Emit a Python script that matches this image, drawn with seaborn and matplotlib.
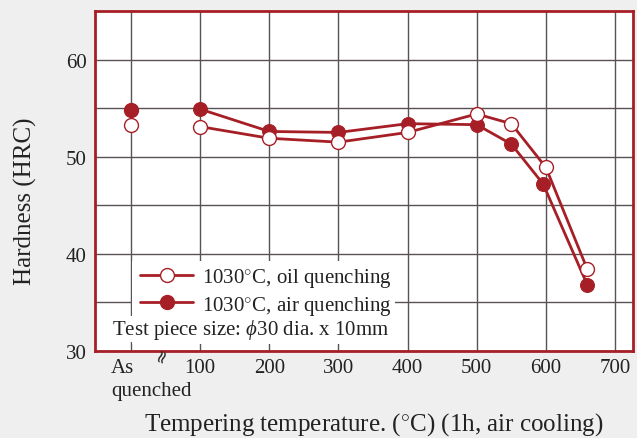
import numpy as np
import pandas as pd
import seaborn as sns
import matplotlib
matplotlib.use("Agg")
import matplotlib.pyplot as plt
from matplotlib.lines import Line2D
from matplotlib.patches import Rectangle
from matplotlib.ticker import FixedLocator
import matplotlib.transforms as mtransforms

# ---- data ----
temps_oil = [100, 200, 300, 400, 500, 550, 600, 660]
hrc_oil = [53.1, 51.9, 51.5, 52.5, 54.4, 53.4, 48.9, 38.4]
temps_air = [100, 200, 300, 400, 500, 550, 596, 660]
hrc_air = [54.9, 52.6, 52.5, 53.4, 53.3, 51.3, 47.2, 36.8]
as_quenched_x = [0]
as_quenched_oil = [53.3]
as_quenched_air = [54.8]
x_tick_values = [0, 100, 200, 300, 400, 500, 600, 700]
x_tick_labels = ["", "100", "200", "300", "400", "500", "600", "700"]
y_tick_values = [30, 40, 50, 60]
series_labels = ["1030$^{\\circ}$C, oil quenching", "1030$^{\\circ}$C, air quenching"]

RED = "#a61f26"
GRID = "#5a5252"
BG = "#efefef"
TXT = "#222222"

sns.set_style("white")
plt.rcParams["font.family"] = ["Liberation Serif", "DejaVu Serif"]
plt.rcParams["mathtext.fontset"] = "custom"
plt.rcParams["mathtext.rm"] = "Liberation Serif"
plt.rcParams["mathtext.it"] = "Liberation Serif:italic"

W, H = 637, 439
L, R, T, B = 95, 633, 12, 352

fig = plt.figure(figsize=(W / 100, H / 100), dpi=100, facecolor=BG)
ax = fig.add_axes([L / W, 1 - B / H, (R - L) / W, (B - T) / H])
ax.set_facecolor("white")


def axx(px):
    return (px - L) / (R - L)


def axy(py):
    return (B - py) / (B - T)


df_oil = pd.DataFrame({"T": temps_oil, "HRC": hrc_oil})
df_air = pd.DataFrame({"T": temps_air, "HRC": hrc_air})
df_aq_oil = pd.DataFrame({"T": as_quenched_x, "HRC": as_quenched_oil})
df_aq_air = pd.DataFrame({"T": as_quenched_x, "HRC": as_quenched_air})

lw = 2.0
ms = 10
sns.lineplot(data=df_air, x="T", y="HRC", ax=ax, color=RED, lw=lw, marker="o",
             markersize=ms, markerfacecolor=RED, markeredgecolor=RED, zorder=4)
sns.lineplot(data=df_oil, x="T", y="HRC", ax=ax, color=RED, lw=lw, marker="o",
             markersize=ms, markerfacecolor="white", markeredgecolor=RED,
             markeredgewidth=1.0, zorder=5)
ax.plot(df_aq_air["T"], df_aq_air["HRC"], ls="none", marker="o", markersize=ms,
        markerfacecolor=RED, markeredgecolor=RED, zorder=4)
ax.plot(df_aq_oil["T"], df_aq_oil["HRC"], ls="none", marker="o", markersize=ms,
        markerfacecolor="white", markeredgecolor=RED, markeredgewidth=1.0, zorder=5)

ax.set_xlim(-52, 726)
ax.set_ylim(30, 65)
ax.xaxis.set_major_locator(FixedLocator(x_tick_values))
ax.set_xticklabels(x_tick_labels)
ax.yaxis.set_major_locator(FixedLocator(y_tick_values))
ax.yaxis.set_minor_locator(FixedLocator([35, 45, 55]))
ax.grid(True, which="both", axis="y", color=GRID, lw=1.0)
ax.grid(True, which="major", axis="x", color=GRID, lw=1.0)
ax.set_axisbelow(True)
ax.tick_params(axis="both", which="both", length=0, labelsize=15, colors=TXT, pad=6)
ax.tick_params(axis="x", pad=5)

for s in ax.spines.values():
    s.set_color(RED)
    s.set_linewidth(2.0)
    s.set_zorder(6)

ax.set_xlabel("Tempering temperature. ($^{\\circ}$C) (1h, air cooling)", fontsize=18, color=TXT)
ax.xaxis.set_label_coords(0.519, -0.175)
ax.set_ylabel("Hardness (HRC)", fontsize=18, color=TXT)
ax.yaxis.set_label_coords(-0.108, 0.444)

trans = mtransforms.blended_transform_factory(ax.transData, ax.transAxes)
ax.text(-29, axy(369), "As", transform=trans, ha="left", va="center",
        fontsize=15, color=TXT)
ax.text(-29, axy(392), "quenched", transform=trans, ha="left", va="center",
        fontsize=15, color=TXT)
ax.text(45, axy(356), "≈", transform=trans, ha="center", va="center", rotation=70,
        fontsize=13, color=TXT, family=["DejaVu Sans"], zorder=7, clip_on=False)

# white panel behind the legend block
ax.add_patch(Rectangle((axx(132), axy(345)), axx(395) - axx(132), axy(262) - axy(345),
                       transform=ax.transAxes, facecolor="white", edgecolor="none", zorder=1))

handles = [
    Line2D([], [], color=RED, lw=lw, marker="o", markersize=ms, markerfacecolor="white",
           markeredgecolor=RED, markeredgewidth=1.0),
    Line2D([], [], color=RED, lw=lw, marker="o", markersize=ms, markerfacecolor=RED,
           markeredgecolor=RED),
]
leg = ax.legend(handles, series_labels, loc="upper left",
                bbox_to_anchor=(axx(140), axy(267)),
                fontsize=15, frameon=False, borderaxespad=0, borderpad=0,
                handlelength=2.55, handletextpad=0.45, labelspacing=0.22)
leg.set_zorder(7)
for t in leg.get_texts():
    t.set_color(TXT)

ax.text(axx(112), axy(330), "Test piece size: $\\mathit{\\phi}$30 dia. x 10mm",
        transform=ax.transAxes, ha="left", va="center", fontsize=15, color=TXT,
        zorder=8, bbox=dict(facecolor="white", edgecolor="none", pad=1.0))

fig.savefig("out.png", dpi=100, facecolor=BG)
